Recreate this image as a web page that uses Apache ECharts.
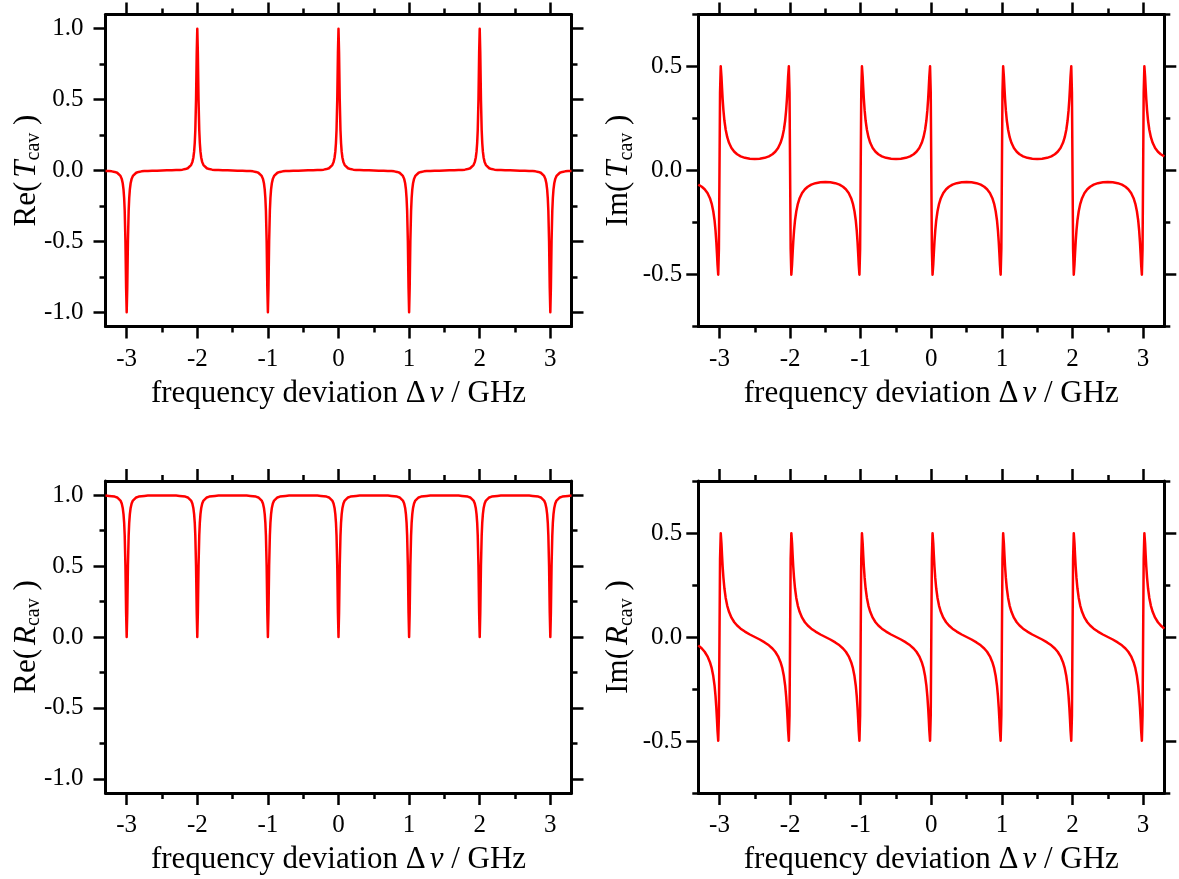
<!DOCTYPE html>
<html>
<head>
<meta charset="utf-8">
<script src="https://cdn.jsdelivr.net/npm/echarts@6/dist/echarts.min.js"></script>
<style>
  html, body { margin: 0; padding: 0; background: #ffffff; }
  #chart { width: 1179px; height: 879px; }
</style>
</head>
<body>
<div id="chart"></div>
<script>
// Frequency samples (GHz), dense around each cavity resonance
const freq = [
  -3.3, -3.25, -3.21, -3.17, -3.135, -3.11, -3.088, -3.07, -3.056, -3.045, -3.036, -3.028, -3.0177, -3.008, -3,
  -2.992, -2.9823, -2.972, -2.964, -2.955, -2.944, -2.93, -2.912, -2.89, -2.865, -2.83, -2.79, -2.75, -2.7, -2.64, -2.57, -2.5,
  -2.43, -2.36, -2.3, -2.25, -2.21, -2.17, -2.135, -2.11, -2.088, -2.07, -2.056, -2.045, -2.036, -2.028, -2.0177, -2.008, -2,
  -1.992, -1.9823, -1.972, -1.964, -1.955, -1.944, -1.93, -1.912, -1.89, -1.865, -1.83, -1.79, -1.75, -1.7, -1.64, -1.57, -1.5,
  -1.43, -1.36, -1.3, -1.25, -1.21, -1.17, -1.135, -1.11, -1.088, -1.07, -1.056, -1.045, -1.036, -1.028, -1.0177, -1.008, -1,
  -0.992, -0.9823, -0.972, -0.964, -0.955, -0.944, -0.93, -0.912, -0.89, -0.865, -0.83, -0.79, -0.75, -0.7, -0.64, -0.57, -0.5,
  -0.43, -0.36, -0.3, -0.25, -0.21, -0.17, -0.135, -0.11, -0.088, -0.07, -0.056, -0.045, -0.036, -0.028, -0.0177, -0.008, 0,
  0.008, 0.0177, 0.028, 0.036, 0.045, 0.056, 0.07, 0.088, 0.11, 0.135, 0.17, 0.21, 0.25, 0.3, 0.36, 0.43, 0.5,
  0.57, 0.64, 0.7, 0.75, 0.79, 0.83, 0.865, 0.89, 0.912, 0.93, 0.944, 0.955, 0.964, 0.972, 0.9823, 0.992, 1,
  1.008, 1.0177, 1.028, 1.036, 1.045, 1.056, 1.07, 1.088, 1.11, 1.135, 1.17, 1.21, 1.25, 1.3, 1.36, 1.43, 1.5,
  1.57, 1.64, 1.7, 1.75, 1.79, 1.83, 1.865, 1.89, 1.912, 1.93, 1.944, 1.955, 1.964, 1.972, 1.9823, 1.992, 2,
  2.008, 2.0177, 2.028, 2.036, 2.045, 2.056, 2.07, 2.088, 2.11, 2.135, 2.17, 2.21, 2.25, 2.3, 2.36, 2.43, 2.5,
  2.57, 2.64, 2.7, 2.75, 2.79, 2.83, 2.865, 2.89, 2.912, 2.93, 2.944, 2.955, 2.964, 2.972, 2.9823, 2.992, 3,
  3.008, 3.0177, 3.028, 3.036, 3.045, 3.056, 3.07, 3.088, 3.11, 3.135, 3.17, 3.21, 3.25, 3.3
];

// Re(T_cav)
const reT = [
  -0.003, -0.004, -0.006, -0.010, -0.016, -0.025, -0.038, -0.059, -0.090, -0.133, -0.194, -0.284, -0.499, -0.830, -1,
  -0.830, -0.499, -0.284, -0.194, -0.133, -0.090, -0.059, -0.038, -0.025, -0.016, -0.010, -0.006, -0.004, -0.003, -0.002, -0.001, 0,
  0.001, 0.002, 0.003, 0.004, 0.006, 0.010, 0.016, 0.025, 0.038, 0.059, 0.090, 0.133, 0.194, 0.284, 0.499, 0.830, 1,
  0.830, 0.499, 0.284, 0.194, 0.133, 0.090, 0.059, 0.038, 0.025, 0.016, 0.010, 0.006, 0.004, 0.003, 0.002, 0.001, 0,
  -0.001, -0.002, -0.003, -0.004, -0.006, -0.010, -0.016, -0.025, -0.038, -0.059, -0.090, -0.133, -0.194, -0.284, -0.499, -0.830, -1,
  -0.830, -0.499, -0.284, -0.194, -0.133, -0.090, -0.059, -0.038, -0.025, -0.016, -0.010, -0.006, -0.004, -0.003, -0.002, -0.001, 0,
  0.001, 0.002, 0.003, 0.004, 0.006, 0.010, 0.016, 0.025, 0.038, 0.059, 0.090, 0.133, 0.194, 0.284, 0.499, 0.830, 1,
  0.830, 0.499, 0.284, 0.194, 0.133, 0.090, 0.059, 0.038, 0.025, 0.016, 0.010, 0.006, 0.004, 0.003, 0.002, 0.001, 0,
  -0.001, -0.002, -0.003, -0.004, -0.006, -0.010, -0.016, -0.025, -0.038, -0.059, -0.090, -0.133, -0.194, -0.284, -0.499, -0.830, -1,
  -0.830, -0.499, -0.284, -0.194, -0.133, -0.090, -0.059, -0.038, -0.025, -0.016, -0.010, -0.006, -0.004, -0.003, -0.002, -0.001, 0,
  0.001, 0.002, 0.003, 0.004, 0.006, 0.010, 0.016, 0.025, 0.038, 0.059, 0.090, 0.133, 0.194, 0.284, 0.499, 0.830, 1,
  0.830, 0.499, 0.284, 0.194, 0.133, 0.090, 0.059, 0.038, 0.025, 0.016, 0.010, 0.006, 0.004, 0.003, 0.002, 0.001, 0,
  -0.001, -0.002, -0.003, -0.004, -0.006, -0.010, -0.016, -0.025, -0.038, -0.059, -0.090, -0.133, -0.194, -0.284, -0.499, -0.830, -1,
  -0.830, -0.499, -0.284, -0.194, -0.133, -0.090, -0.059, -0.038, -0.025, -0.016, -0.010, -0.006, -0.004, -0.003
];

// Im(T_cav)
const imT = [
  -0.068, -0.078, -0.090, -0.108, -0.133, -0.160, -0.196, -0.239, -0.289, -0.342, -0.397, -0.452, -0.501, -0.376, 0,
  0.376, 0.501, 0.452, 0.397, 0.342, 0.289, 0.239, 0.196, 0.160, 0.133, 0.108, 0.090, 0.078, 0.068, 0.061, 0.057, 0.055,
  0.057, 0.061, 0.068, 0.078, 0.090, 0.108, 0.133, 0.160, 0.196, 0.239, 0.289, 0.342, 0.397, 0.452, 0.501, 0.376, 0,
  -0.376, -0.501, -0.452, -0.397, -0.342, -0.289, -0.239, -0.196, -0.160, -0.133, -0.108, -0.090, -0.078, -0.068, -0.061, -0.057, -0.055,
  -0.057, -0.061, -0.068, -0.078, -0.090, -0.108, -0.133, -0.160, -0.196, -0.239, -0.289, -0.342, -0.397, -0.452, -0.501, -0.376, 0,
  0.376, 0.501, 0.452, 0.397, 0.342, 0.289, 0.239, 0.196, 0.160, 0.133, 0.108, 0.090, 0.078, 0.068, 0.061, 0.057, 0.055,
  0.057, 0.061, 0.068, 0.078, 0.090, 0.108, 0.133, 0.160, 0.196, 0.239, 0.289, 0.342, 0.397, 0.452, 0.501, 0.376, 0,
  -0.376, -0.501, -0.452, -0.397, -0.342, -0.289, -0.239, -0.196, -0.160, -0.133, -0.108, -0.090, -0.078, -0.068, -0.061, -0.057, -0.055,
  -0.057, -0.061, -0.068, -0.078, -0.090, -0.108, -0.133, -0.160, -0.196, -0.239, -0.289, -0.342, -0.397, -0.452, -0.501, -0.376, 0,
  0.376, 0.501, 0.452, 0.397, 0.342, 0.289, 0.239, 0.196, 0.160, 0.133, 0.108, 0.090, 0.078, 0.068, 0.061, 0.057, 0.055,
  0.057, 0.061, 0.068, 0.078, 0.090, 0.108, 0.133, 0.160, 0.196, 0.239, 0.289, 0.342, 0.397, 0.452, 0.501, 0.376, 0,
  -0.376, -0.501, -0.452, -0.397, -0.342, -0.289, -0.239, -0.196, -0.160, -0.133, -0.108, -0.090, -0.078, -0.068, -0.061, -0.057, -0.055,
  -0.057, -0.061, -0.068, -0.078, -0.090, -0.108, -0.133, -0.160, -0.196, -0.239, -0.289, -0.342, -0.397, -0.452, -0.501, -0.376, 0,
  0.376, 0.501, 0.452, 0.397, 0.342, 0.289, 0.239, 0.196, 0.160, 0.133, 0.108, 0.090, 0.078, 0.068
];

// Re(R_cav)
const reR = [
  0.997, 0.995, 0.993, 0.990, 0.984, 0.975, 0.962, 0.941, 0.910, 0.867, 0.807, 0.716, 0.502, 0.170, 0,
  0.170, 0.502, 0.716, 0.807, 0.867, 0.910, 0.941, 0.962, 0.975, 0.984, 0.990, 0.993, 0.995, 0.997, 0.998, 0.998, 0.998,
  0.998, 0.998, 0.997, 0.995, 0.993, 0.990, 0.984, 0.975, 0.962, 0.941, 0.910, 0.867, 0.807, 0.716, 0.502, 0.170, 0,
  0.170, 0.502, 0.716, 0.807, 0.867, 0.910, 0.941, 0.962, 0.975, 0.984, 0.990, 0.993, 0.995, 0.997, 0.998, 0.998, 0.998,
  0.998, 0.998, 0.997, 0.995, 0.993, 0.990, 0.984, 0.975, 0.962, 0.941, 0.910, 0.867, 0.807, 0.716, 0.502, 0.170, 0,
  0.170, 0.502, 0.716, 0.807, 0.867, 0.910, 0.941, 0.962, 0.975, 0.984, 0.990, 0.993, 0.995, 0.997, 0.998, 0.998, 0.998,
  0.998, 0.998, 0.997, 0.995, 0.993, 0.990, 0.984, 0.975, 0.962, 0.941, 0.910, 0.867, 0.807, 0.716, 0.502, 0.170, 0,
  0.170, 0.502, 0.716, 0.807, 0.867, 0.910, 0.941, 0.962, 0.975, 0.984, 0.990, 0.993, 0.995, 0.997, 0.998, 0.998, 0.998,
  0.998, 0.998, 0.997, 0.995, 0.993, 0.990, 0.984, 0.975, 0.962, 0.941, 0.910, 0.867, 0.807, 0.716, 0.502, 0.170, 0,
  0.170, 0.502, 0.716, 0.807, 0.867, 0.910, 0.941, 0.962, 0.975, 0.984, 0.990, 0.993, 0.995, 0.997, 0.998, 0.998, 0.998,
  0.998, 0.998, 0.997, 0.995, 0.993, 0.990, 0.984, 0.975, 0.962, 0.941, 0.910, 0.867, 0.807, 0.716, 0.502, 0.170, 0,
  0.170, 0.502, 0.716, 0.807, 0.867, 0.910, 0.941, 0.962, 0.975, 0.984, 0.990, 0.993, 0.995, 0.997, 0.998, 0.998, 0.998,
  0.998, 0.998, 0.997, 0.995, 0.993, 0.990, 0.984, 0.975, 0.962, 0.941, 0.910, 0.867, 0.807, 0.716, 0.502, 0.170, 0,
  0.170, 0.502, 0.716, 0.807, 0.867, 0.910, 0.941, 0.962, 0.975, 0.984, 0.990, 0.993, 0.995, 0.997
];

// Im(R_cav)
const imR = [
  -0.040, -0.055, -0.071, -0.093, -0.121, -0.150, -0.188, -0.233, -0.284, -0.338, -0.394, -0.450, -0.499, -0.376, 0,
  0.376, 0.499, 0.450, 0.394, 0.338, 0.284, 0.233, 0.188, 0.150, 0.121, 0.093, 0.071, 0.055, 0.040, 0.026, 0.012, 0,
  -0.012, -0.026, -0.040, -0.055, -0.071, -0.093, -0.121, -0.150, -0.188, -0.233, -0.284, -0.338, -0.394, -0.450, -0.499, -0.376, 0,
  0.376, 0.499, 0.450, 0.394, 0.338, 0.284, 0.233, 0.188, 0.150, 0.121, 0.093, 0.071, 0.055, 0.040, 0.026, 0.012, 0,
  -0.012, -0.026, -0.040, -0.055, -0.071, -0.093, -0.121, -0.150, -0.188, -0.233, -0.284, -0.338, -0.394, -0.450, -0.499, -0.376, 0,
  0.376, 0.499, 0.450, 0.394, 0.338, 0.284, 0.233, 0.188, 0.150, 0.121, 0.093, 0.071, 0.055, 0.040, 0.026, 0.012, 0,
  -0.012, -0.026, -0.040, -0.055, -0.071, -0.093, -0.121, -0.150, -0.188, -0.233, -0.284, -0.338, -0.394, -0.450, -0.499, -0.376, 0,
  0.376, 0.499, 0.450, 0.394, 0.338, 0.284, 0.233, 0.188, 0.150, 0.121, 0.093, 0.071, 0.055, 0.040, 0.026, 0.012, 0,
  -0.012, -0.026, -0.040, -0.055, -0.071, -0.093, -0.121, -0.150, -0.188, -0.233, -0.284, -0.338, -0.394, -0.450, -0.499, -0.376, 0,
  0.376, 0.499, 0.450, 0.394, 0.338, 0.284, 0.233, 0.188, 0.150, 0.121, 0.093, 0.071, 0.055, 0.040, 0.026, 0.012, 0,
  -0.012, -0.026, -0.040, -0.055, -0.071, -0.093, -0.121, -0.150, -0.188, -0.233, -0.284, -0.338, -0.394, -0.450, -0.499, -0.376, 0,
  0.376, 0.499, 0.450, 0.394, 0.338, 0.284, 0.233, 0.188, 0.150, 0.121, 0.093, 0.071, 0.055, 0.040, 0.026, 0.012, 0,
  -0.012, -0.026, -0.040, -0.055, -0.071, -0.093, -0.121, -0.150, -0.188, -0.233, -0.284, -0.338, -0.394, -0.450, -0.499, -0.376, 0,
  0.376, 0.499, 0.450, 0.394, 0.338, 0.284, 0.233, 0.188, 0.150, 0.121, 0.093, 0.071, 0.055, 0.040
];

// Tick positions
const xMajor = [-3, -2, -1, 0, 1, 2, 3];
const xMinor = [-2.5, -1.5, -0.5, 0.5, 1.5, 2.5];
const reMajor = [-1, -0.5, 0, 0.5, 1];
const reMinor = [-0.75, -0.25, 0.25, 0.75];
const imMajor = [-0.5, 0, 0.5];
const imMinor = [-0.75, -0.25, 0.25, 0.75];

const FONT = '"Liberation Serif", "Times New Roman", serif';
const TICK_FONT = 25;
const TITLE_FONT = 31;
const SUB_FONT = 20;
const X_TITLE = '{n|frequency deviation \u0394}{it|\u03BD}{n| / GHz}';

const nameRich = {
  n: { fontFamily: FONT, fontSize: TITLE_FONT, color: '#000', lineHeight: 34 },
  it: { fontFamily: FONT, fontSize: TITLE_FONT, fontStyle: 'italic', color: '#000', lineHeight: 34, padding: [0, 0, 0, 4] },
  sub: { fontFamily: FONT, fontSize: SUB_FONT, color: '#000', lineHeight: 14, verticalAlign: 'bottom' }
};

const grids = [];
const xAxes = [];
const yAxes = [];
const series = [];

function tickAxis(base, values, len, withLine) {
  return Object.assign({
    type: 'value',
    axisLine: { show: withLine, onZero: false, lineStyle: { color: '#000', width: 3 } },
    axisTick: { show: true, inside: false, customValues: values, length: len, lineStyle: { color: '#000', width: 2.5 } },
    axisLabel: { show: false },
    splitLine: { show: false },
    minorTick: { show: false },
    silent: true
  }, base);
}

function addPanel(box, yMin, yMax, yMajor, yMinor, yMargin, yName, values) {
  const g = grids.length;
  grids.push(Object.assign({ containLabel: false, outerBoundsMode: 'none' }, box));

  const xMainIndex = xAxes.length;
  const xBase = { gridIndex: g, min: -3.3, max: 3.3 };
  const xMain = tickAxis(Object.assign({ position: 'bottom' }, xBase), xMajor, 12, true);
  xMain.axisLabel = {
    show: true, customValues: xMajor, margin: 20,
    fontFamily: FONT, fontSize: TICK_FONT, color: '#000',
    formatter: v => String(v)
  };
  xMain.name = X_TITLE;
  xMain.nameLocation = 'middle';
  xMain.nameGap = 50;
  xMain.nameMoveOverlap = false;
  xMain.nameTextStyle = { fontFamily: FONT, fontSize: TITLE_FONT, color: '#000', rich: nameRich };
  xAxes.push(xMain);
  xAxes.push(tickAxis(Object.assign({ position: 'bottom' }, xBase), xMinor, 6, false));
  xAxes.push(tickAxis(Object.assign({ position: 'top' }, xBase), xMajor, 12, true));
  xAxes.push(tickAxis(Object.assign({ position: 'top' }, xBase), xMinor, 6, false));

  const yMainIndex = yAxes.length;
  const yBase = { gridIndex: g, min: yMin, max: yMax };
  const yMain = tickAxis(Object.assign({ position: 'left' }, yBase), yMajor, 12, true);
  yMain.axisLabel = {
    show: true, customValues: yMajor, margin: yMargin,
    fontFamily: FONT, fontSize: TICK_FONT, color: '#000',
    formatter: v => v.toFixed(1)
  };
  yMain.name = yName;
  yMain.nameLocation = 'middle';
  yMain.nameGap = 62;
  yMain.nameRotate = 90;
  yMain.nameMoveOverlap = false;
  yMain.nameTextStyle = { fontFamily: FONT, fontSize: TITLE_FONT, color: '#000', rich: nameRich };
  yAxes.push(yMain);
  yAxes.push(tickAxis(Object.assign({ position: 'left' }, yBase), yMinor, 6, false));
  yAxes.push(tickAxis(Object.assign({ position: 'right' }, yBase), yMajor, 12, true));
  yAxes.push(tickAxis(Object.assign({ position: 'right' }, yBase), yMinor, 6, false));

  series.push({
    type: 'line',
    xAxisIndex: xMainIndex,
    yAxisIndex: yMainIndex,
    data: freq.map((f, i) => [f, values[i]]),
    showSymbol: false,
    symbol: 'none',
    smooth: false,
    clip: true,
    silent: true,
    lineStyle: { color: '#ff0000', width: 2.5, join: 'round' },
    itemStyle: { color: '#ff0000' }
  });
}

addPanel({ left: 105.5, top: 14.5, width: 466, height: 312 }, -1.1, 1.1, reMajor, reMinor, 22,
  '{n|Re(}{it|T}{sub|cav}{n| )}', reT);
addPanel({ left: 698.3, top: 14.5, width: 466, height: 312 }, -0.75, 0.75, imMajor, imMinor, 16,
  '{n|Im(}{it|T}{sub|cav}{n| )}', imT);
addPanel({ left: 105.5, top: 481, width: 466, height: 312 }, -1.1, 1.1, reMajor, reMinor, 22,
  '{n|Re(}{it|R}{sub|cav}{n| )}', reR);
addPanel({ left: 698.3, top: 481, width: 466, height: 312 }, -0.75, 0.75, imMajor, imMinor, 16,
  '{n|Im(}{it|R}{sub|cav}{n| )}', imR);

const chart = echarts.init(document.getElementById('chart'), null, { renderer: 'canvas' });
chart.setOption({
  animation: false,
  backgroundColor: '#ffffff',
  grid: grids,
  xAxis: xAxes,
  yAxis: yAxes,
  series: series
});
</script>
</body>
</html>
